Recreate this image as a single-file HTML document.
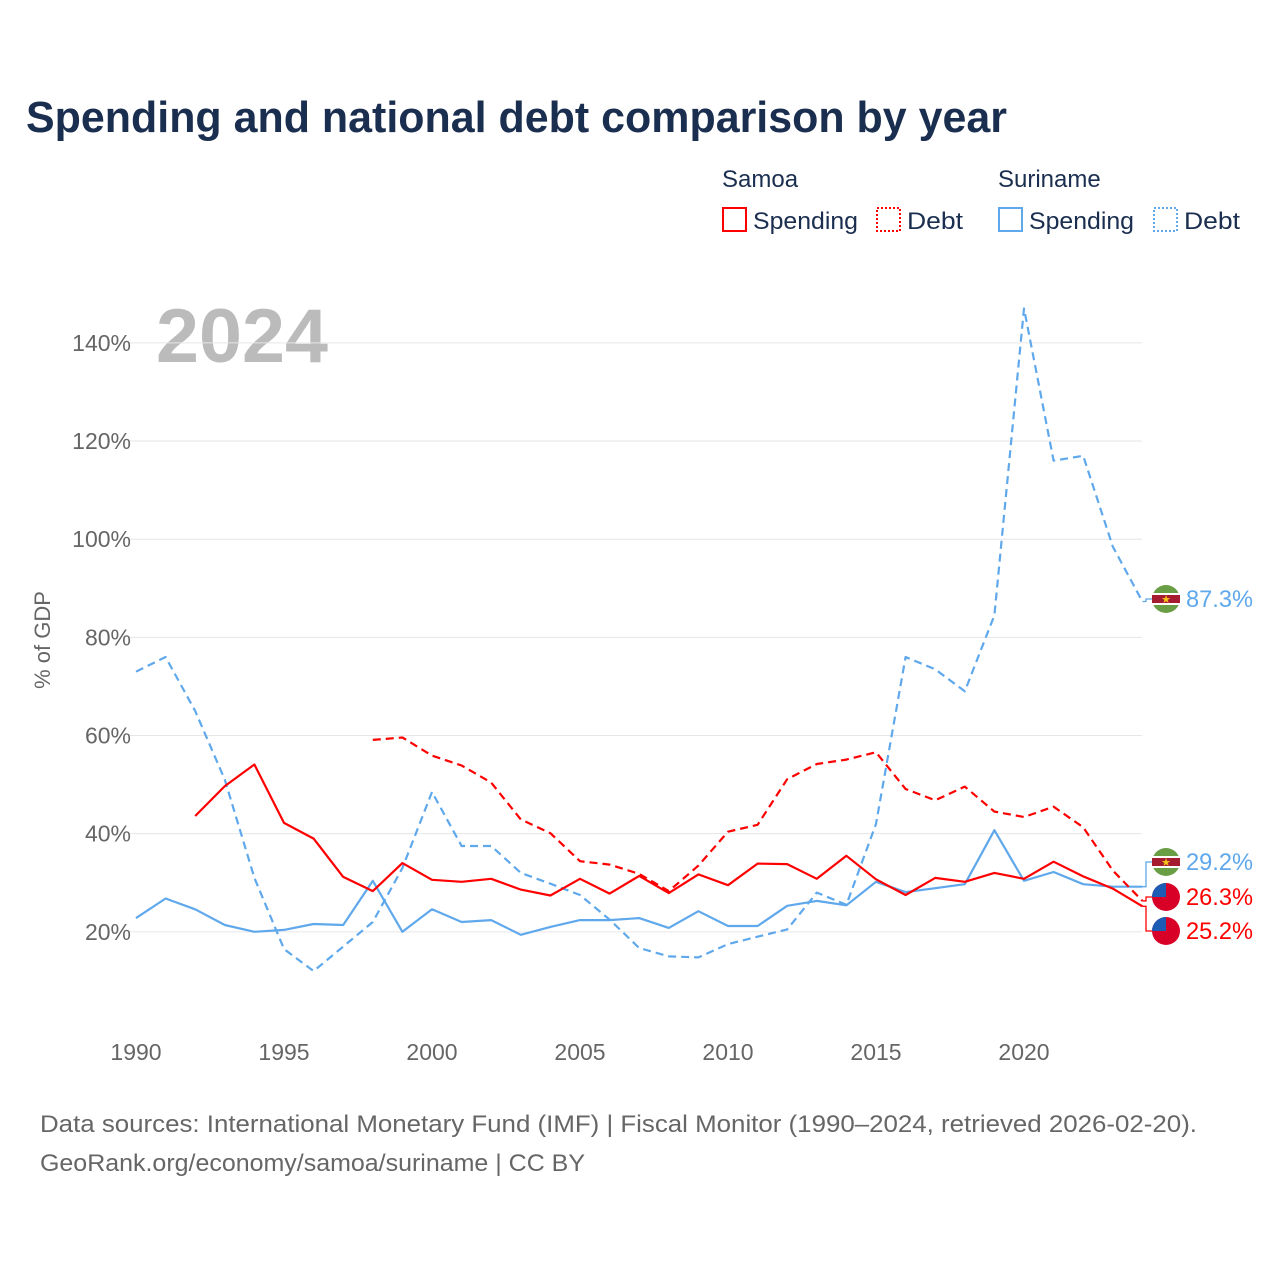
<!DOCTYPE html>
<html><head><meta charset="utf-8"><style>
body{margin:0;background:#fff;font-family:"Liberation Sans",sans-serif}
svg text{font-family:"Liberation Sans",sans-serif}
</style></head><body>
<svg id="c" width="1280" height="1280" xmlns="http://www.w3.org/2000/svg">
<text x="26" y="132" font-size="44" font-weight="bold" fill="#1a2e4f" textLength="981" lengthAdjust="spacingAndGlyphs">Spending and national debt comparison by year</text>
<g font-size="24" fill="#1a2e4f">
<text x="722" y="187" fill="#1a2e4f">Samoa</text>
<text x="998" y="187" fill="#1a2e4f">Suriname</text>
<g><rect x="723" y="208" width="23" height="23" fill="none" stroke="#f00" stroke-width="2"/><text x="753" y="229" fill="#1a2e4f" textLength="105" lengthAdjust="spacingAndGlyphs">Spending</text></g>
<g><rect x="877" y="208" width="23" height="23" fill="none" stroke="#f00" stroke-width="2" stroke-dasharray="2 2"/><text x="907" y="229" fill="#1a2e4f" textLength="56" lengthAdjust="spacingAndGlyphs">Debt</text></g>
<g><rect x="999" y="208" width="23" height="23" fill="none" stroke="#5fa8ec" stroke-width="2"/><text x="1029" y="229" fill="#1a2e4f" textLength="105" lengthAdjust="spacingAndGlyphs">Spending</text></g>
<g><rect x="1154" y="208" width="23" height="23" fill="none" stroke="#5fa8ec" stroke-width="2" stroke-dasharray="2 2"/><text x="1184" y="229" fill="#1a2e4f" textLength="56" lengthAdjust="spacingAndGlyphs">Debt</text></g>
</g>
<text x="156" y="362" font-size="76" font-weight="bold" fill="#bbb" textLength="172" lengthAdjust="spacingAndGlyphs">2024</text>
<text transform="translate(50,640) rotate(-90)" text-anchor="middle" font-size="22" fill="#666">% of GDP</text>
<g id="grid"></g><g id="series"></g><g id="labels"></g>
<text x="40" y="1132" font-size="24" fill="#666" textLength="1157" lengthAdjust="spacingAndGlyphs">Data sources: International Monetary Fund (IMF) | Fiscal Monitor (1990–2024, retrieved 2026-02-20).</text>
<text x="40" y="1171" font-size="24" fill="#666" textLength="545" lengthAdjust="spacingAndGlyphs">GeoRank.org/economy/samoa/suriname | CC BY</text>
</svg>
<script>
const years=[];for(let y=1990;y<=2024;y++)years.push(y);
const yTicks=[20,40,60,80,100,120,140];
const xTicks=[1990,1995,2000,2005,2010,2015,2020];
const surDebt=[73,76,65,51,31,16.5,12,17,22,33,48.5,37.5,37.5,32,29.8,27.5,22.5,16.7,15,14.8,17.5,19,20.5,28,25.5,42,76,73.5,69,84.5,147,116,117,98.5,87.3];
const surSpend=[22.8,26.8,24.6,21.4,20,20.4,21.6,21.4,30.4,20,24.6,22,22.4,19.4,21,22.4,22.4,22.8,20.8,24.2,21.2,21.2,25.3,26.3,25.4,30.2,28.1,28.9,29.7,40.7,30.4,32.2,29.7,29.2,29.2];
const samSpend=[null,null,43.6,49.7,54.1,42.2,39,31.2,28.3,34,30.6,30.2,30.8,28.6,27.4,30.8,27.8,31.4,27.9,31.7,29.5,33.9,33.8,30.8,35.5,30.7,27.5,31,30.2,32,30.8,34.3,31.3,28.8,25.2];
const samDebt=[null,null,null,null,null,null,null,null,59.1,59.6,55.9,53.9,50.4,42.9,40.1,34.4,33.7,31.8,28.3,33.5,40.4,41.8,51.1,54.2,55.1,56.6,49.1,46.8,49.6,44.5,43.4,45.5,41.3,32.5,26.3];
const X=y=>136+(y-1990)*29.6, Y=v=>1030-v*4.908;
const NS="http://www.w3.org/2000/svg";
function mk(t,a,p){const e=document.createElementNS(NS,t);for(const k in a)e.setAttribute(k,a[k]);p.appendChild(e);return e;}
const g=document.getElementById('grid');
yTicks.forEach(v=>{
 const l=mk('line',{x1:130,x2:1142,y1:Y(v),y2:Y(v),stroke:'#e6e6e6','stroke-width':1},g);
 
 
 const t=mk('text',{x:131,y:Y(v)+8,'text-anchor':'end','font-size':23,fill:'#666'},g);t.textContent=v+'%';
 
 
});
xTicks.forEach(y=>{
 const t=mk('text',{x:X(y),y:1060,'text-anchor':'middle','font-size':23,fill:'#666'},g);t.textContent=y;
 
 
});
const s=document.getElementById('series');
function line(vals,color,dash,name){
 let d='',pen=false;
 vals.forEach((v,i)=>{if(v==null){pen=false;return;}d+=(pen?'L':'M')+X(years[i]).toFixed(1)+' '+Y(v).toFixed(1);pen=true;});
 const p=mk('path',{d:d,fill:'none',stroke:color,'stroke-width':2.2,'stroke-dasharray':dash||'none','stroke-linejoin':'round'},s);
 
 
}
line(surDebt,'#5fa8ec','8 5','line-suriname-debt');
line(surSpend,'#5fa8ec',null,'line-suriname-spending');
line(samDebt,'#f00','8 5','line-samoa-debt');
line(samSpend,'#f00',null,'line-samoa-spending');
const L=document.getElementById('labels');
function lab(v,ly,color,flag,name){
 const ex=X(2024),ey=Y(v);
 mk('path',{d:`M${ex} ${ey}H1146V${ly}H1152`,fill:'none',stroke:color,'stroke-width':1.3},L);
 const gg=mk('g',{},L);
 
 
 const cx=1166;
 if(flag==='sur'){
  mk('circle',{cx:cx,cy:ly,r:14,fill:'#6a9e44'},gg);
  mk('rect',{x:cx-14,y:ly-6,width:28,height:12,fill:'#fff'},gg);
  mk('rect',{x:cx-14,y:ly-4,width:28,height:8,fill:'#a51c30'},gg);
  const st=mk('text',{x:cx,y:ly+4,'text-anchor':'middle','font-size':11,fill:'#f5c518'},gg);st.textContent='★';
 }else{
  mk('circle',{cx:cx,cy:ly,r:14,fill:'#d80027'},gg);
  mk('path',{d:`M${cx} ${ly}H${cx-14}A14 14 0 0 1 ${cx} ${ly-14}Z`,fill:'#1e5bb5'},gg);
 }
 const t=mk('text',{x:1186,y:ly+8,'font-size':24,fill:color,textLength:67,lengthAdjust:'spacingAndGlyphs'},gg);t.textContent=v.toFixed(1)+'%';
}
lab(surDebt[34],599,'#5fa8ec','sur','end-label-suriname-debt');
lab(surSpend[34],862,'#5fa8ec','sur','end-label-suriname-spending');
lab(samDebt[34],897,'#f00','sam','end-label-samoa-debt');
lab(samSpend[34],931,'#f00','sam','end-label-samoa-spending');
</script>
</body></html>
